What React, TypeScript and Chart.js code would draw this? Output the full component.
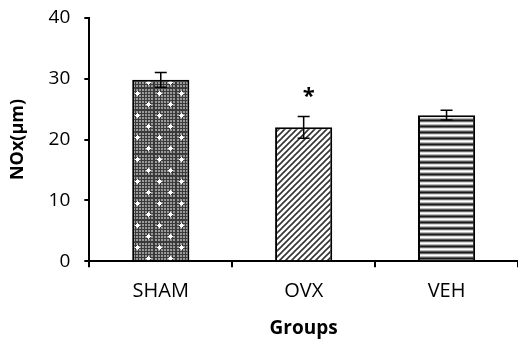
import { useEffect, useRef } from "react";
import { Chart, registerables } from "chart.js";

Chart.register(...registerables);

const categories = ["SHAM", "OVX", "VEH"];
const means = [29.8, 22.0, 24.0];
const errors = [1.2, 1.8, 0.8];
const significance = ["", "*", ""];
const yMin = 0;
const yMax = 40;
const yStep = 10;

function makePattern(kind: string): CanvasPattern | string {
  const c = document.createElement("canvas");
  const ctx = c.getContext("2d")!;
  if (kind === "dots") {
    c.width = 22;
    c.height = 22;
    for (let y = 0; y < 22; y++) {
      for (let x = 0; x < 22; x++) {
        const a = x % 3 === 0 || y % 3 === 0;
        ctx.fillStyle = a ? "#3a3a3a" : "#9a9a9a";
        ctx.fillRect(x, y, 1, 1);
      }
    }
    ctx.fillStyle = "#ffffff";
    const dots = [
      [5, 5],
      [16, 16],
    ];
    for (const [dx, dy] of dots) {
      ctx.fillRect(dx - 1, dy - 1, 3, 3);
      ctx.fillRect(dx - 2, dy, 5, 1);
      ctx.fillRect(dx, dy - 2, 1, 5);
    }
  } else if (kind === "diag") {
    c.width = 6;
    c.height = 6;
    ctx.fillStyle = "#ffffff";
    ctx.fillRect(0, 0, 6, 6);
    ctx.strokeStyle = "#333333";
    ctx.lineWidth = 1.6;
    ctx.beginPath();
    ctx.moveTo(-1, 7);
    ctx.lineTo(7, -1);
    ctx.moveTo(-1, 1);
    ctx.lineTo(1, -1);
    ctx.moveTo(5, 7);
    ctx.lineTo(7, 5);
    ctx.stroke();
  } else {
    c.width = 1;
    c.height = 6;
    const rows = ["#1a1a1a", "#666666", "#d8d8d8", "#ffffff", "#b8b8b8", "#5a5a5a"];
    rows.forEach((col, i) => {
      ctx.fillStyle = col;
      ctx.fillRect(0, i, 1, 1);
    });
  }
  return ctx.createPattern(c, "repeat") || "#888";
}

const errorBarPlugin = {
  id: "errorBars",
  afterDatasetsDraw(chart: any) {
    const ctx = chart.ctx;
    const xs = chart.scales.x;
    const ys = chart.scales.y;
    ctx.save();
    ctx.strokeStyle = "#000";
    ctx.lineWidth = 1.5;
    means.forEach((m, i) => {
      const x = xs.getPixelForValue(i);
      const top = ys.getPixelForValue(m + errors[i]);
      const bot = ys.getPixelForValue(m - errors[i]);
      ctx.beginPath();
      ctx.moveTo(x, top);
      ctx.lineTo(x, bot);
      ctx.moveTo(x - 6, top);
      ctx.lineTo(x + 6, top);
      ctx.moveTo(x - 6, bot);
      ctx.lineTo(x + 6, bot);
      ctx.stroke();
      if (significance[i]) {
        ctx.fillStyle = "#000";
        ctx.font = "bold 22px 'Open Sans'";
        ctx.textAlign = "center";
        ctx.textBaseline = "middle";
        ctx.fillText(significance[i], x + 5, top - 20);
      }
    });
    ctx.restore();
  },
};

export default function App() {
  const ref = useRef<HTMLCanvasElement>(null);
  useEffect(() => {
    document.body.style.margin = "0";
    const fills = [makePattern("dots"), makePattern("diag"), makePattern("hstripes")];
    const chart = new Chart(ref.current!, {
      type: "bar",
      data: {
        labels: categories,
        datasets: [
          {
            data: means,
            backgroundColor: fills as any,
            borderColor: "#000",
            borderWidth: 2,
            categoryPercentage: 0.4,
            barPercentage: 1,
          },
        ],
      },
      options: {
        animation: false,
        responsive: true,
        maintainAspectRatio: false,
        layout: { padding: { top: 0, right: 0, left: 7, bottom: 0 } },
        plugins: { legend: { display: false }, tooltip: { enabled: false } },
        scales: {
          x: {
            grid: {
              display: true,
              drawOnChartArea: false,
              drawTicks: true,
              tickLength: 6,
              color: "#000",
              lineWidth: 2,
              offset: true,
            },
            border: { display: true, color: "#000", width: 2 },
            ticks: { color: "#000", font: { family: "Open Sans", size: 20 }, padding: 12 },
            title: {
              display: true,
              text: "Groups",
              color: "#000",
              font: { family: "Open Sans", size: 19, weight: "bold" },
              padding: { top: 2, bottom: 0 },
            },
          },
          y: {
            min: yMin,
            max: yMax,
            ticks: {
              stepSize: yStep,
              color: "#000",
              font: { family: "Open Sans", size: 19, lineHeight: 0.4 },
              padding: 14,
            },
            grid: {
              display: true,
              drawOnChartArea: false,
              drawTicks: true,
              tickLength: 5,
              color: "#000",
              lineWidth: 2,
            },
            border: { display: true, color: "#000", width: 2 },
            title: {
              display: true,
              text: "NOx(μm)",
              color: "#000",
              font: { family: "Open Sans", size: 18, weight: "bold" },
              padding: { top: 0, bottom: 6 },
            },
          },
        },
      },
      plugins: [errorBarPlugin],
    });
    return () => chart.destroy();
  }, []);
  return (
    <div style={{ width: 518, height: 340, position: "relative" }}>
      <canvas ref={ref} />
    </div>
  );
}
